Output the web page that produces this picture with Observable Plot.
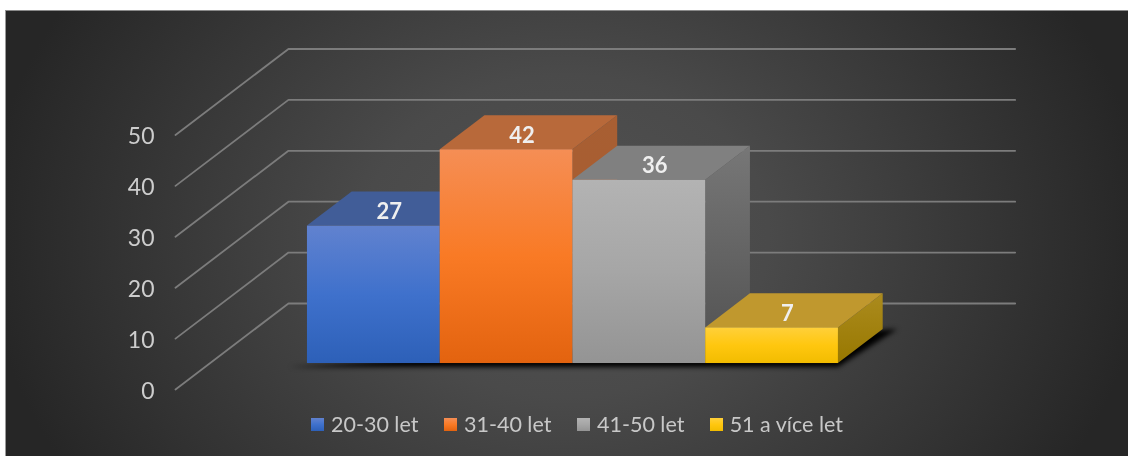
<!DOCTYPE html>
<html><head><meta charset="utf-8">
<script src="https://cdn.jsdelivr.net/npm/d3@7"></script>
<script src="https://cdn.jsdelivr.net/npm/@observablehq/plot@0.6"></script>
<style>
html,body{margin:0;padding:0;background:#fff;width:1128px;height:456px;overflow:hidden}
#panel{position:absolute;left:5px;top:10px;width:1123px;height:446px;box-sizing:border-box;
 background:radial-gradient(ellipse 580px 460px at 560px 225px,#525252 0%,#4a4a4a 35%,#262626 100%);
 border-top:1px solid #8a8a8a;border-left:1px solid #9a9a9a}
#chart{position:absolute;left:-1px;top:-1px}
#chart svg{display:block;filter:blur(.6px)}
#legend{position:absolute;left:305px;top:400px;display:flex;font:21.5px Lato,sans-serif;color:#c8c8c8;filter:blur(.5px)}
#legend div{width:133px;display:flex;align-items:center;white-space:nowrap}
#legend i{display:block;width:13px;height:13px;margin-right:7px}
</style></head><body>
<div id="panel"><div id="chart"></div><div id="legend"></div></div>
<script>
const categories = ["20-30 let","31-40 let","41-50 let","51 a více let"];
const values = [27,42,36,7];
const ticks = [0,10,20,30,40,50];
const frontTop = ["#6182cf","#f58e55","#b3b3b3","#ffd03a"];
const frontMid = ["#3f71cc","#f97a25","#a6a6a6","#ffc70f"];
const frontBottom = ["#2d60b8","#e3630f","#949494","#f2bc00"];
const topFace = ["#415d98","#b8693a","#808080","#c0982e"];
const sideTop = ["#3a5488","#a85f33","#777777","#ab8b1e"];
const sideBottom = ["#2a4a80","#a85a2c","#505050","#987800"];

// oblique projection of (category position, value, depth) on the 2D scales
const depthX = 0.851, depthY = 16.9;
const P = (u,v,z) => ({x:u+depthX*z, y:v+depthY*z});
const gap = 0.737, zFront = 0.302, zBack = 0.698;
const span = gap*2 + categories.length;

const defs = () => {
  const d = d3.create("svg:defs");
  categories.forEach((_,i)=>{
    const f = d.append("linearGradient").attr("id","front"+i).attr("x1",0).attr("x2",0).attr("y1",0).attr("y2",1);
    f.append("stop").attr("offset","0%").attr("stop-color",frontTop[i]);
    f.append("stop").attr("offset","50%").attr("stop-color",frontMid[i]);
    f.append("stop").attr("offset","100%").attr("stop-color",frontBottom[i]);
    const s = d.append("linearGradient").attr("id","side"+i).attr("x1",0).attr("x2",0).attr("y1",0).attr("y2",1);
    s.append("stop").attr("offset","0%").attr("stop-color",sideTop[i]);
    s.append("stop").attr("offset","100%").attr("stop-color",sideBottom[i]);
  });
  return d.node();
};

const gridLines = ticks.flatMap(t=>[P(0,t,0),P(0,t,1),P(span,t,1)].map(p=>({...p,t})));

const band = (pts,fill,extra={}) => Plot.areaY(pts,{x:"x",y1:"y1",y2:"y2",fill,...extra});
const seg = (a,b) => ({x:a.x,y1:a.y,y2:b.y});

const L = gap, R = gap+categories.length;
const shadow = band([
  seg(P(L-.13,-.8,zFront),P(L-.13,-.8,zFront)),
  seg(P(R,-.8,zFront),P(L+.2,-.8,zBack)),
  seg(P(R+.11,0,zBack),P(R+.11,0,zBack))
],"#000000",{imageFilter:"blur(2.5px)"});

const barMarks = values.flatMap((v,i)=>{
  const a = gap+i, b = a+1;
  const fl = P(a,v,zFront), fr = P(b,v,zFront), bl = P(a,v,zBack), br = P(b,v,zBack);
  const f0 = P(a,0,zFront);
  return [
    band([seg(P(b,0,zFront),fr),seg(P(b,0,zBack),br)],`url(#side${i})`),
    band([
      {x:fl.x,y1:fl.y,y2:fl.y},
      {x:bl.x,y1:fl.y,y2:bl.y},
      {x:fr.x,y1:fl.y,y2:bl.y},
      {x:br.x,y1:bl.y,y2:bl.y}
    ],topFace[i]),
    Plot.rect([{x1:f0.x,x2:fr.x,y1:f0.y,y2:fr.y}],{x1:"x1",x2:"x2",y1:"y1",y2:"y2",fill:`url(#front${i})`,inset:0})
  ];
});

const labels = values.map((v,i)=>{
  const p = P(gap+i+.5, v, (zFront+zBack)/2);
  return {x:p.x, y:p.y, v};
});

const pxLeft=5, pxRight=1128, u0=175, uw=132.75, v0=389, vh=5.09, pxTop=10, H=395;
const chartPlot = Plot.plot({
  width:1123, height:H, margin:0,
  style:{background:"transparent"},
  x:{axis:null, domain:[(pxLeft-u0)/uw,(pxRight-u0)/uw], range:[0,1123]},
  y:{axis:null, domain:[(v0-(pxTop+H))/vh,(v0-pxTop)/vh], range:[H,0]},
  marks:[
    defs,
    Plot.line(gridLines,{x:"x",y:"y",z:"t",stroke:"#7c7c7c",strokeWidth:1.8,curve:"linear"}),
    shadow,
    ...barMarks,
    Plot.text(ticks,{x:()=>0,y:d=>d,text:d=>String(d),textAnchor:"end",dx:-21,dy:2,fill:"#cdcdcd",fontSize:23,fontFamily:"Lato"}),
    Plot.text(labels,{x:"x",y:"y",text:d=>String(d.v),dx:-7,dy:3,fill:"#efefef",fontSize:22,fontWeight:"bold",fontFamily:"Lato"})
  ]
});
document.getElementById("chart").append(chartPlot);

const lg = d3.select("#legend");
categories.forEach((c,i)=>{
  const it = lg.append("div");
  it.append("i").style("background",`linear-gradient(${frontTop[i]},${frontMid[i]} 50%,${frontBottom[i]})`);
  it.append("span").text(c);
});
</script>
</body></html>
